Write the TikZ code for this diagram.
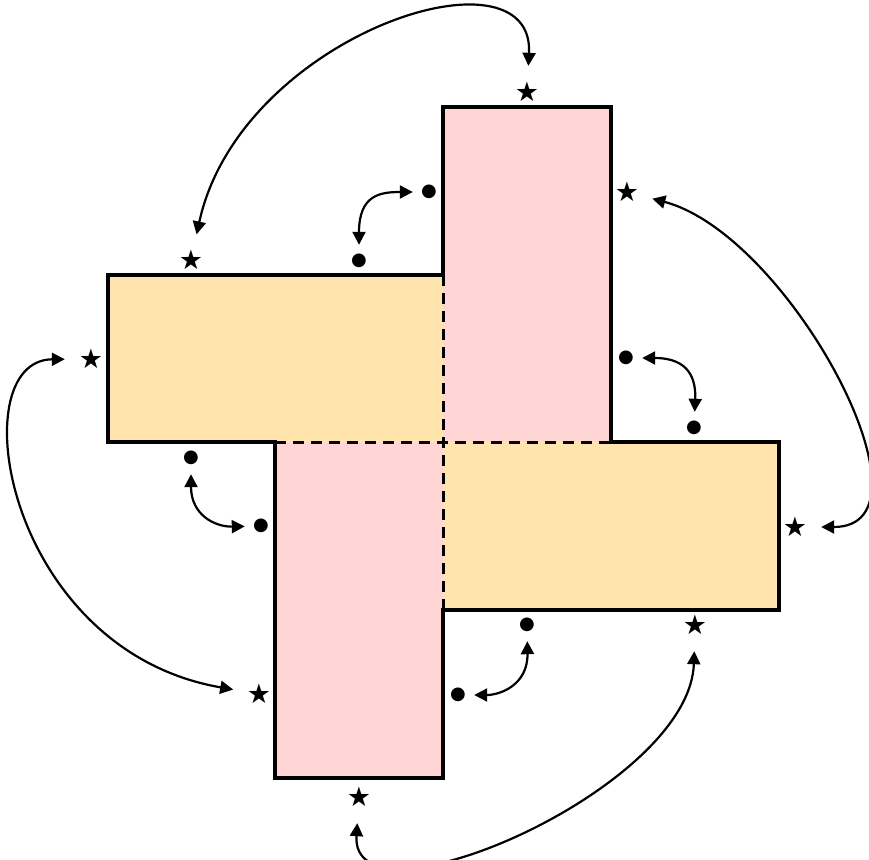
\documentclass[tikz,border=0pt]{standalone}
\usepackage{fontspec}
\newfontfamily\symfont{DejaVu Sans}
\usetikzlibrary{arrows.meta}
\definecolor{pinkfill}{HTML}{FFD5D5}
\definecolor{yellowfill}{HTML}{FFE4AD}
\begin{document}
\begin{tikzpicture}[x=1pt,y=-1pt,
  starmark/.style={circle,inner sep=0pt,minimum size=52pt,font=\symfont\fontsize{27}{27}\selectfont},
  dotmark/.style={circle,inner sep=0pt,minimum size=32pt,font=\symfont\fontsize{18}{18}\selectfont},
  link/.style={line width=2.2pt,{Triangle[length=13pt,width=13pt]}-{Triangle[length=13pt,width=13pt]}},
  outline/.style={line width=3.2pt,line join=miter},
  innerline/.style={line width=3pt,dash pattern=on 11pt off 7pt}]
\useasboundingbox (0,0) rectangle (869,859);
% fills
\fill[yellowfill] (108,275) rectangle (443,442);
\fill[yellowfill] (443,442) rectangle (779,610);
\fill[pinkfill] (443,107) rectangle (611,442);
\fill[pinkfill] (275,442) rectangle (443,778);
% inner dashed lines
\draw[innerline] (443,275) -- (443,610);
\draw[innerline] (275,442) -- (611,442);
% outline
\draw[outline] (443,107) -- (611,107) -- (611,442) -- (779,442) -- (779,610) -- (443,610)
  -- (443,778) -- (275,778) -- (275,442) -- (108,442) -- (108,275) -- (443,275) -- cycle;
% markers
\node[starmark] (s1) at (191,260) {★};
\node[starmark] (s2) at (527,92) {★};
\node[starmark] (s3) at (627,192) {★};
\node[starmark] (s4) at (795,527) {★};
\node[starmark] (s5) at (91,359) {★};
\node[starmark] (s6) at (259,694) {★};
\node[starmark] (s7) at (695,625) {★};
\node[starmark] (s8) at (359,797) {★};
\node[dotmark] (d1) at (429,192) {●};
\node[dotmark] (d2) at (359,261) {●};
\node[dotmark] (d3) at (626,358) {●};
\node[dotmark] (d4) at (694,428) {●};
\node[dotmark] (d5) at (191,458) {●};
\node[dotmark] (d6) at (261,526) {●};
\node[dotmark] (d7) at (527,625) {●};
\node[dotmark] (d8) at (458,695) {●};
% connectors
\draw[link] (s1) .. controls (240,35) and (535,-60) .. (s2);
\draw[link] (d2) .. controls (359,195) and (380,192) .. (d1);
\draw[link] (s3) .. controls (790,235) and (945,527) .. (s4);
\draw[link] (d3) .. controls (690,358) and (696,380) .. (d4);
\draw[link] (s5) .. controls (-40,360) and (5,650) .. (s6);
\draw[link] (d5) .. controls (191,515) and (215,527) .. (d6);
\draw[link] (d7) .. controls (528,685) and (500,695) .. (d8);
\draw[link] (s7) .. controls (690,790) and (350,935) .. (s8);
\end{tikzpicture}
\end{document}
